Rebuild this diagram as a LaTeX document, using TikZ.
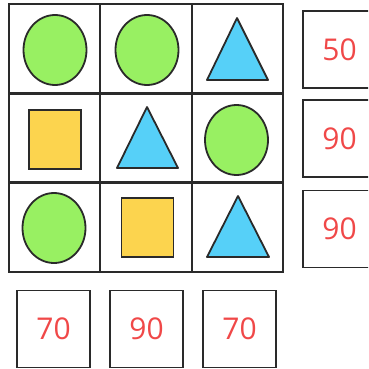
\documentclass[tikz,border=0pt]{standalone}
\usepackage{fontspec}
\setmainfont{Open Sans}
\usetikzlibrary{shapes.geometric}
\definecolor{cgreen}{HTML}{98F062}
\definecolor{cyellow}{HTML}{FCD44E}
\definecolor{cblue}{HTML}{56D0F8}
\definecolor{cred}{HTML}{F04848}
\definecolor{cline}{HTML}{2A2A2A}
\tikzset{
  cell/.style={draw=cline, line width=2pt, minimum width=91.5pt, minimum height=89.3pt, inner sep=0pt},
  numbox/.style={draw=cline, line width=1.7pt, minimum width=73pt, minimum height=77pt, inner sep=0pt,
    text=cred, font=\fontsize{30}{30}\selectfont},
  circ/.style={ellipse, draw=cline, line width=1.8pt, fill=cgreen, minimum width=63pt, minimum height=70pt, inner sep=0pt},
  sq/.style={rectangle, draw=cline, line width=1.8pt, fill=cyellow, minimum width=52pt, minimum height=59pt, inner sep=0pt},
  tri/.style={draw=cline, line width=1.8pt, fill=cblue, line join=round}
}
\begin{document}
\begin{tikzpicture}[x=1pt,y=-1pt]
\useasboundingbox (0,0) rectangle (368,369);
\clip (0,0) rectangle (368,369);
% grid cells
\node[cell] (c00) at (54.5,49) {};
\node[cell] (c01) at (146,49) {};
\node[cell] (c02) at (237.5,49) {};
\node[cell] (c10) at (54.5,138) {};
\node[cell] (c11) at (146,138) {};
\node[cell] (c12) at (237.5,138) {};
\node[cell] (c20) at (54.5,227) {};
\node[cell] (c21) at (146,227) {};
\node[cell] (c22) at (237.5,227) {};
% shapes
\node[circ] (s00) at (55,50) {};
\node[circ] (s01) at (147,50) {};
\draw[tri] (237,18) -- (268,80) -- (207,80) -- cycle;
\node[sq] (s10) at (55,139.5) {};
\draw[tri] (147,107) -- (178,168) -- (117,168) -- cycle;
\node[circ] (s12) at (236.5,140) {};
\node[circ] (s20) at (54,228) {};
\node[sq] (s21) at (147.5,227.5) {};
\draw[tri] (238,196) -- (269,257) -- (207,257) -- cycle;
% number boxes
\node[numbox] (r0) at (339.5,49.5) {50};
\node[numbox] (r1) at (339.5,138.5) {90};
\node[numbox] (r2) at (339.5,229) {90};
\node[numbox] (b0) at (53.5,329) {70};
\node[numbox] (b1) at (146.5,329) {90};
\node[numbox] (b2) at (239.5,329) {70};
\end{tikzpicture}
\end{document}
